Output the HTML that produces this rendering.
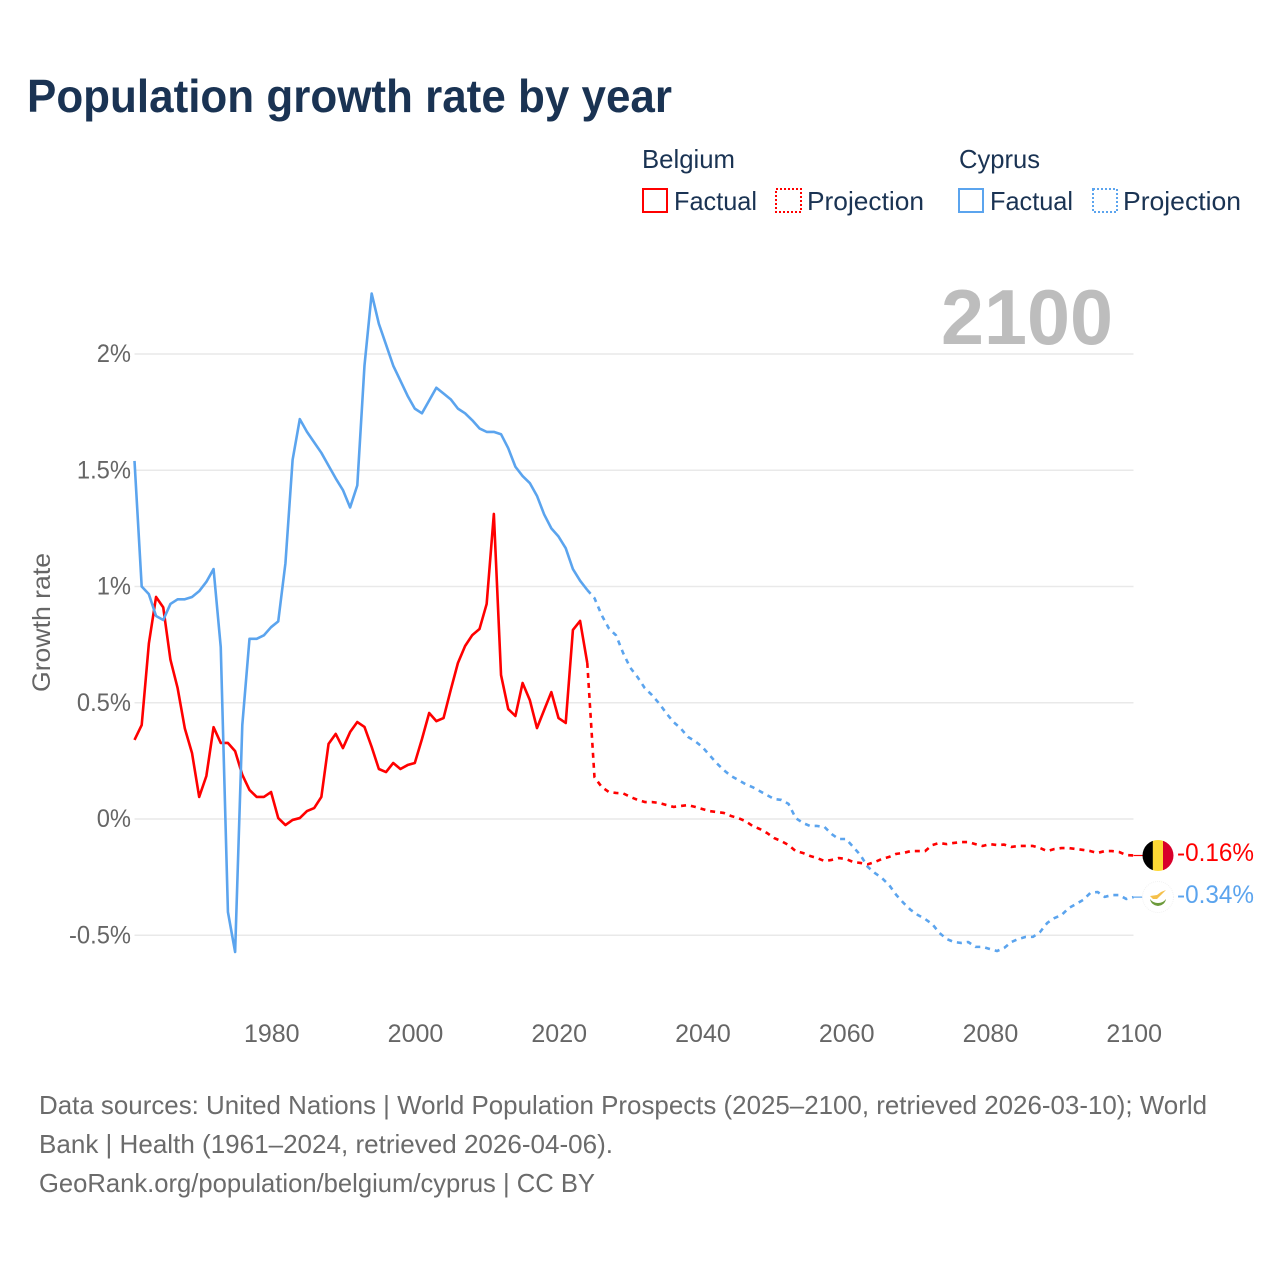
<!DOCTYPE html>
<html lang="en">
<head>
<meta charset="utf-8">
<title>Population growth rate by year</title>
<style>
html,body{margin:0;padding:0;background:#fff;width:1280px;height:1280px;overflow:hidden}
svg{display:block}
text{font-family:"Liberation Sans",sans-serif}
</style>
</head>
<body>
<svg id="chart" xmlns="http://www.w3.org/2000/svg" width="1280" height="1280" viewBox="0 0 1280 1280">
  <rect x="0" y="0" width="1280" height="1280" fill="#fff"/>
  <text x="27" y="112" font-size="46" font-weight="700" fill="#1a3353" textLength="645" lengthAdjust="spacingAndGlyphs">Population growth rate by year</text>

  <g font-size="26" fill="#1a3353">
    <text x="642" y="168" textLength="93" lengthAdjust="spacingAndGlyphs">Belgium</text>
    <rect x="643" y="189" width="24" height="23" fill="none" stroke="#ff0000" stroke-width="2"/>
    <text x="674" y="210" textLength="83" lengthAdjust="spacingAndGlyphs">Factual</text>
    <rect x="776" y="189" width="25" height="23" fill="none" stroke="#ff0000" stroke-width="2" stroke-dasharray="2 2"/>
    <text x="807" y="210" textLength="117" lengthAdjust="spacingAndGlyphs">Projection</text>
    <text x="959" y="168" textLength="81" lengthAdjust="spacingAndGlyphs">Cyprus</text>
    <rect x="959" y="189" width="24" height="23" fill="none" stroke="#5ba4ee" stroke-width="2"/>
    <text x="990" y="210" textLength="83" lengthAdjust="spacingAndGlyphs">Factual</text>
    <rect x="1093" y="189" width="24" height="23" fill="none" stroke="#5ba4ee" stroke-width="2" stroke-dasharray="2 2"/>
    <text x="1123" y="210" textLength="118" lengthAdjust="spacingAndGlyphs">Projection</text>
  </g>

  <g id="grid"></g>
  <g id="yticks"></g>
  <g id="xticks"></g>
  <text x="941" y="344" font-size="78" font-weight="700" fill="#bdbdbd" textLength="172" lengthAdjust="spacingAndGlyphs">2100</text>
  <text transform="translate(50,692) rotate(-90)" font-size="25" fill="#666" textLength="139" lengthAdjust="spacingAndGlyphs">Growth rate</text>
  <g id="series"></g>

  <g>
    <clipPath id="clip-be"><circle cx="1158" cy="855.5" r="15.5"/></clipPath>
    <g clip-path="url(#clip-be)">
      <rect x="1142" y="839" width="11" height="33" fill="#000"/>
      <rect x="1152.8" y="839" width="10.4" height="33" fill="#fdd835"/>
      <rect x="1163" y="839" width="11" height="33" fill="#d8002a"/>
    </g>
  </g>
  <g>
    <circle cx="1158" cy="897" r="15.5" fill="#fff" stroke="#f2f2f2" stroke-width="1" stroke-dasharray="1 1"/>
    <path d="M1150 896 L1157 895 L1161 892 L1166 890 L1161 895 L1157 899 L1153 899 Z" fill="#f5c04a"/>
    <path d="M1150 899 Q1151 905 1158 906 Q1165 905 1166 899 Q1163 903 1158 903 Q1153 903 1150 899 Z" fill="#6c9a3a"/>
  </g>

  <text id="label-be" x="1177" y="861" font-size="25" fill="#ff0000" textLength="77" lengthAdjust="spacingAndGlyphs"></text>
  <text id="label-cy" x="1177" y="903" font-size="25" fill="#5ba4ee" textLength="77" lengthAdjust="spacingAndGlyphs"></text>

  <g font-size="26" fill="#6b6b6b">
    <text x="39" y="1114" textLength="1168" lengthAdjust="spacingAndGlyphs">Data sources: United Nations | World Population Prospects (2025–2100, retrieved 2026-03-10); World</text>
    <text x="39" y="1153" textLength="574" lengthAdjust="spacingAndGlyphs">Bank | Health (1961–2024, retrieved 2026-04-06).</text>
    <text x="39" y="1192" textLength="556" lengthAdjust="spacingAndGlyphs">GeoRank.org/population/belgium/cyprus | CC BY</text>
  </g>
</svg>
<script>
const yTickValues = [2, 1.5, 1, 0.5, 0, -0.5];
const yTickLabels = ["2%", "1.5%", "1%", "0.5%", "0%", "-0.5%"];
const xTickValues = [1980, 2000, 2020, 2040, 2060, 2080, 2100];
const factualStartYear = 1961;
const projectionStartYear = 2024;
const belgiumEndLabel = "-0.16%";
const cyprusEndLabel = "-0.34%";

const belgiumFactual = [
  .34,.404,.755,.955,.91,.685,.563,.39,.284,.095,
  .185,.395,.327,.327,.292,.19,.125,.095,.095,.116,
  .004,-.026,-.004,.004,.034,.047,.095,.323,.366,.305,
  .374,.417,.396,.31,.215,.202,.241,.215,.232,.241,
  .344,.456,.421,.434,.555,.671,.744,.791,.817,.925,
  1.312,.619,.473,.443,.585,.512,.391,.469,.546,.434,
  .413,.813,.852,.671
];
const belgiumProjection = [
  .671,.18,.138,.116,.112,.11,.095,.082,.073,.073,
  .069,.06,.052,.056,.06,.052,.043,.034,.03,.026,
  .013,.004,-.009,-.03,-.043,-.06,-.082,-.095,-.112,-.138,
  -.146,-.159,-.168,-.181,-.176,-.168,-.172,-.185,-.189,-.195,
  -.185,-.172,-.163,-.15,-.146,-.138,-.138,-.138,-.112,-.103,
  -.108,-.103,-.099,-.099,-.108,-.116,-.108,-.112,-.11,-.12,
  -.116,-.116,-.116,-.125,-.138,-.129,-.125,-.125,-.129,-.133,
  -.138,-.146,-.138,-.138,-.142,-.155,-.157
];
const cyprusFactual = [
  1.54,1.0,.967,.873,.856,.925,.945,.945,.955,.98,
  1.02,1.075,.74,-.40,-.572,.405,.775,.775,.79,.825,
  .85,1.10,1.545,1.72,1.665,1.62,1.575,1.52,1.465,1.415,
  1.34,1.435,1.95,2.26,2.13,2.04,1.95,1.885,1.82,1.765,
  1.745,1.80,1.855,1.83,1.805,1.765,1.745,1.715,1.68,1.665,
  1.665,1.655,1.595,1.515,1.475,1.445,1.39,1.31,1.25,1.215,
  1.165,1.075,1.025,.985
];
const cyprusProjection = [
  .985,.95,.877,.82,.79,.713,.65,.61,.563,.533,
  .497,.455,.417,.39,.353,.335,.31,.275,.24,.21,
  .185,.168,.15,.137,.12,.103,.086,.082,.065,.004,
  -.017,-.03,-.03,-.034,-.065,-.086,-.086,-.12,-.155,-.205,
  -.232,-.254,-.284,-.327,-.361,-.391,-.413,-.43,-.452,-.49,
  -.516,-.529,-.533,-.529,-.55,-.55,-.559,-.568,-.555,-.529,
  -.516,-.507,-.507,-.486,-.447,-.426,-.413,-.383,-.366,-.348,
  -.318,-.314,-.335,-.327,-.327,-.344,-.336
];

const NS = "http://www.w3.org/2000/svg";
const RED = "#ff0000";
const BLUE = "#5ba4ee";
function xScale(year) { return 134.5 + (year - 1961) * 7.187; }
function yScale(v) { return 819 - v * 232.5; }
function pathFrom(values, startYear) {
  return values.map(function (v, i) {
    return (i ? "L" : "M") + xScale(startYear + i).toFixed(2) + " " + yScale(v).toFixed(2);
  }).join("");
}

const grid = document.getElementById("grid");
const yticks = document.getElementById("yticks");
yTickValues.forEach(function (v, i) {
  const line = document.createElementNS(NS, "line");
  
  
  line.setAttribute("x1", xScale(1961));
  line.setAttribute("x2", xScale(2100));
  line.setAttribute("y1", yScale(v));
  line.setAttribute("y2", yScale(v));
  line.setAttribute("stroke", "#e9e9e9");
  line.setAttribute("stroke-width", "1.5");
  grid.appendChild(line);
  const t = document.createElementNS(NS, "text");
  
  
  t.setAttribute("x", 131);
  t.setAttribute("y", yScale(v) + 8);
  t.setAttribute("text-anchor", "end");
  t.setAttribute("font-size", "25");
  t.setAttribute("fill", "#666");
  t.textContent = yTickLabels[i];
  yticks.appendChild(t);
  t.setAttribute("textLength", (t.getComputedTextLength() * 0.95).toFixed(1));
  t.setAttribute("lengthAdjust", "spacingAndGlyphs");
});

const xticks = document.getElementById("xticks");
xTickValues.forEach(function (year) {
  const t = document.createElementNS(NS, "text");
  
  
  t.setAttribute("x", xScale(year) + 0.7);
  t.setAttribute("y", 1042);
  t.setAttribute("text-anchor", "middle");
  t.setAttribute("font-size", "25");
  t.setAttribute("fill", "#666");
  t.textContent = year;
  xticks.appendChild(t);
});

const series = document.getElementById("series");
function addLine(name, values, startYear, color, dashed) {
  const p = document.createElementNS(NS, "path");
  
  
  p.setAttribute("d", pathFrom(values, startYear));
  p.setAttribute("fill", "none");
  p.setAttribute("stroke", color);
  p.setAttribute("stroke-width", "2.6");
  p.setAttribute("stroke-linejoin", "round");
  if (dashed) p.setAttribute("stroke-dasharray", "5 5");
  series.appendChild(p);
}
addLine("belgium-factual-line", belgiumFactual, factualStartYear, RED, false);
addLine("belgium-projection-line", belgiumProjection, projectionStartYear, RED, true);
addLine("cyprus-factual-line", cyprusFactual, factualStartYear, BLUE, false);
addLine("cyprus-projection-line", cyprusProjection, projectionStartYear, BLUE, true);

function addConnector(name, v, color) {
  const c = document.createElementNS(NS, "line");
  
  
  c.setAttribute("x1", xScale(2100));
  c.setAttribute("x2", 1143);
  c.setAttribute("y1", yScale(v));
  c.setAttribute("y2", yScale(v));
  c.setAttribute("stroke", color);
  c.setAttribute("stroke-width", "1.2");
  series.appendChild(c);
}
addConnector("belgium-end-connector", belgiumProjection[belgiumProjection.length - 1], RED);
addConnector("cyprus-end-connector", cyprusProjection[cyprusProjection.length - 1], BLUE);

document.getElementById("label-be").textContent = belgiumEndLabel;
document.getElementById("label-cy").textContent = cyprusEndLabel;
</script>
</body>
</html>
